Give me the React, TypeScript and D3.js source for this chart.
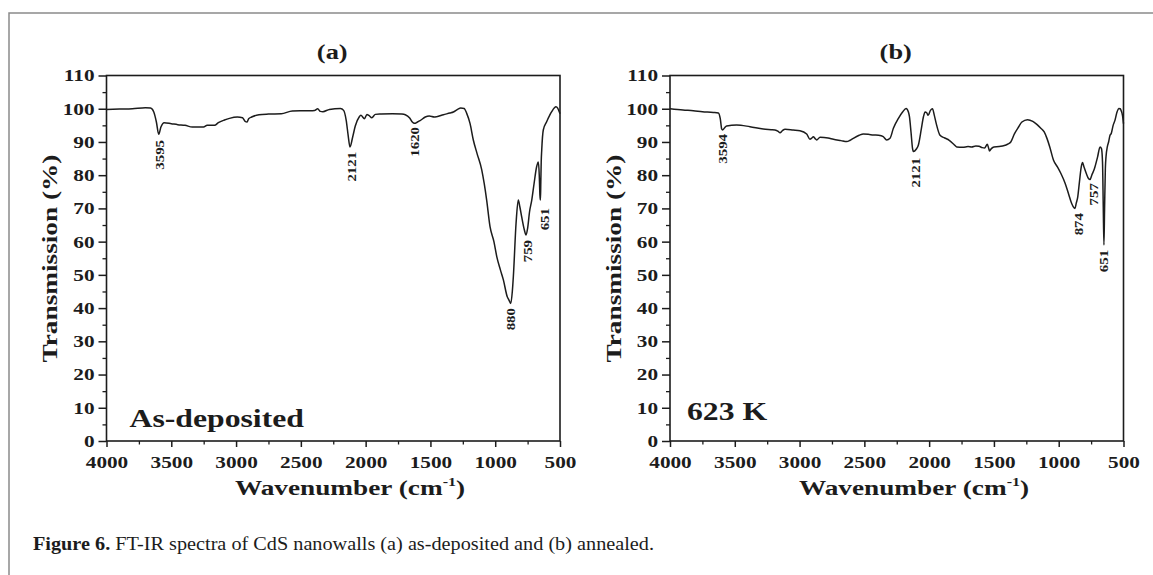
import React, { useEffect, useRef } from "react";
import * as d3 from "d3";

// ---------- data ----------
const wavenumberA = [4000, 3900, 3800, 3700, 3660, 3635, 3615, 3597, 3580, 3555, 3500, 3450, 3394, 3337, 3251, 3223, 3166, 3137, 3090, 3051, 2990, 2950, 2930, 2915, 2903, 2880, 2823, 2750, 2651, 2566, 2450, 2394, 2370, 2350, 2330, 2280, 2194, 2170, 2150, 2135, 2121, 2100, 2080, 2050, 2037, 2009, 1990, 1975, 1952, 1925, 1880, 1794, 1720, 1694, 1660, 1640, 1623, 1600, 1580, 1540, 1509, 1470, 1452, 1400, 1350, 1323, 1290, 1266, 1240, 1220, 1194, 1169, 1140, 1104, 1085, 1066, 1040, 1010, 988, 960, 937, 907, 895, 880, 868, 860, 839, 822, 810, 796, 775, 762, 750, 735, 718, 700, 680, 667, 660, 655, 651, 648, 645, 641, 629, 603, 580, 564, 545, 531, 518, 510, 500];
const transmissionA = [99.8, 99.9, 100.0, 100.3, 100.2, 99.0, 96.0, 92.3, 94.5, 95.8, 95.5, 95.2, 95.0, 94.5, 94.5, 95.0, 95.0, 95.8, 96.6, 97.1, 97.5, 97.3, 96.2, 96.0, 97.0, 97.5, 98.2, 98.4, 98.5, 99.3, 99.4, 99.5, 100.0, 99.2, 99.1, 99.8, 100.1, 99.5, 96.5, 92.0, 88.5, 91.5, 94.8, 97.5, 98.0, 97.0, 98.3, 98.0, 97.3, 98.3, 98.4, 98.5, 98.4, 98.2, 97.2, 96.0, 95.6, 96.0, 96.4, 97.5, 97.8, 97.5, 97.6, 98.2, 98.7, 99.0, 99.8, 100.2, 100.1, 98.6, 95.5, 90.6, 86.5, 81.6, 77.5, 72.5, 64.5, 60.0, 55.5, 51.5, 48.5, 43.4, 42.5, 41.4, 45.0, 49.5, 65.6, 72.5, 70.5, 67.5, 63.5, 62.0, 64.0, 69.0, 72.5, 77.5, 82.6, 84.0, 80.0, 74.0, 72.5, 78.0, 84.0, 87.6, 93.6, 96.1, 98.0, 99.1, 100.2, 100.6, 100.2, 99.5, 98.5];

const wavenumberB = [4000, 3900, 3820, 3750, 3666, 3627, 3612, 3601, 3594, 3580, 3563, 3486, 3383, 3280, 3220, 3190, 3165, 3151, 3130, 3112, 3050, 2997, 2945, 2920, 2905, 2894, 2880, 2868, 2842, 2780, 2739, 2680, 2636, 2610, 2585, 2540, 2508, 2470, 2431, 2390, 2354, 2328, 2302, 2276, 2237, 2205, 2178, 2160, 2152, 2140, 2128, 2121, 2100, 2083, 2060, 2044, 2031, 2019, 2008, 1990, 1974, 1960, 1945, 1916, 1880, 1845, 1810, 1787, 1740, 1700, 1672, 1640, 1615, 1590, 1572, 1551, 1540, 1534, 1520, 1500, 1460, 1413, 1390, 1370, 1341, 1310, 1284, 1241, 1200, 1169, 1140, 1112, 1090, 1069, 1040, 1010, 983, 950, 925, 900, 882, 874, 865, 853, 840, 826, 816, 805, 787, 770, 758, 745, 724, 700, 681, 670, 662, 656, 651, 646, 640, 635, 625, 615, 604, 595, 580, 566, 550, 537, 525, 517, 508, 500];
const transmissionB = [100.0, 99.6, 99.4, 99.1, 98.9, 98.7, 97.0, 93.9, 93.6, 94.2, 94.8, 95.1, 94.6, 93.9, 93.7, 93.6, 93.2, 92.8, 93.5, 93.8, 93.6, 93.4, 92.4, 90.8, 91.2, 91.6, 91.0, 90.6, 91.4, 91.2, 90.8, 90.4, 90.1, 90.5, 91.1, 92.0, 92.4, 92.3, 92.1, 92.0, 91.6, 90.6, 91.1, 94.1, 97.1, 99.0, 100.1, 99.0, 97.6, 93.0, 88.0, 87.1, 87.8, 89.1, 94.0, 97.6, 99.0, 98.8, 98.0, 99.5, 100.0, 98.0, 95.5, 92.0, 91.2, 90.5, 89.3, 88.5, 88.4, 88.6, 88.5, 88.8, 88.7, 88.3, 88.2, 89.3, 88.0, 87.3, 88.0, 88.5, 88.6, 89.0, 89.4, 90.0, 92.5, 94.5, 96.0, 96.7, 96.2, 95.3, 94.2, 93.0, 91.0, 88.5, 84.5, 82.5, 80.5, 77.5, 74.5, 71.5, 70.2, 70.0, 71.5, 73.5, 78.0, 82.5, 83.8, 82.5, 80.5, 79.0, 78.7, 80.0, 82.0, 85.5, 88.5, 88.0, 84.0, 70.0, 59.0, 70.0, 82.0, 85.5, 88.5, 90.0, 92.0, 92.5, 95.0, 96.5, 99.0, 100.1, 100.0, 99.3, 98.0, 95.5];

const peakLabelsA = ["3595", "2121", "1620", "880", "759", "651"];
const peakWavenumbersA = [3595, 2109, 1627, 882, 755, 619];
const peakLevelsA = [90.6, 87.0, 94.5, 40.0, 60.5, 70.1];

const peakLabelsB = ["3594", "2121", "874", "757", "651"];
const peakWavenumbersB = [3598, 2109, 852, 737, 658];
const peakLevelsB = [92.4, 85.2, 68.6, 77.6, 57.5];

const xMajorTicks = [4000, 3500, 3000, 2500, 2000, 1500, 1000, 500];
const xMinorTicks = [3750, 3250, 2750, 2250, 1750, 1250, 750];
const yMajorTicks = [0, 10, 20, 30, 40, 50, 60, 70, 80, 90, 100, 110];
const yMinorTicks = [5, 15, 25, 35, 45, 55, 65, 75, 85, 95, 105];

const panelTitles = ["(a)", "(b)"];
const sampleLabels = ["As-deposited", "623 K"];
const xAxisTitle = "Wavenumber (cm";
const yAxisTitle = "Transmission (%)";

// ---------- layout ----------
const FONT = "'Liberation Serif', 'Times New Roman', serif";
const INK = "#1c1c1c";
const PW = 453.5;
const TOP = 75.5;
const BOTTOM = 441;

function Stretch(props: any) {
  const { x, y, sx = 1, rot = 0, anchor = "start", size, weight = "bold", children } = props;
  return (
    <text
      transform={`translate(${x},${y}) rotate(${rot}) scale(${sx},1)`}
      textAnchor={anchor}
      fontSize={size}
      fontWeight={weight}
      fontFamily={FONT}
      fill={INK}
    >
      {children}
    </text>
  );
}

function Panel(props: any) {
  const { left, wav, tr, labels, labelW, labelT, title, sample, sampleDx, sampleY, xTitleCx } = props;
  const xRef = useRef<SVGGElement>(null);
  const xMinRef = useRef<SVGGElement>(null);
  const yRef = useRef<SVGGElement>(null);
  const yMinRef = useRef<SVGGElement>(null);

  const x = d3.scaleLinear().domain([4000, 500]).range([left, left + PW]);
  const y = d3.scaleLinear().domain([0, 110]).range([BOTTOM, TOP]);

  useEffect(() => {
    const gx = d3.select(xRef.current as SVGGElement);
    gx.call(d3.axisBottom(x).tickValues(xMajorTicks).tickSize(6).tickPadding(9).tickFormat(d3.format("d")) as any);
    gx.select(".domain").remove();
    gx.selectAll(".tick line").attr("stroke", INK).attr("stroke-width", 1.5);
    gx.selectAll(".tick text")
      .attr("font-size", 17)
      .attr("font-weight", "bold")
      .attr("font-family", FONT)
      .attr("fill", INK)
      .attr("transform", "scale(1.25,1)");

    const gxm = d3.select(xMinRef.current as SVGGElement);
    gxm.call(d3.axisBottom(x).tickValues(xMinorTicks).tickSize(3.5).tickFormat(() => "") as any);
    gxm.select(".domain").remove();
    gxm.selectAll(".tick line").attr("stroke", INK).attr("stroke-width", 1.3);

    const gy = d3.select(yRef.current as SVGGElement);
    gy.call(d3.axisLeft(y).tickValues(yMajorTicks).tickSize(8).tickPadding(4).tickFormat(d3.format("d")) as any);
    gy.select(".domain").remove();
    gy.selectAll(".tick line").attr("stroke", INK).attr("stroke-width", 1.5);
    gy.selectAll(".tick text")
      .attr("font-size", 17)
      .attr("font-weight", "bold")
      .attr("font-family", FONT)
      .attr("fill", INK)
      .attr("x", -12 / 1.25)
      .attr("transform", "scale(1.25,1)");

    const gym = d3.select(yMinRef.current as SVGGElement);
    gym.call(d3.axisLeft(y).tickValues(yMinorTicks).tickSize(4).tickFormat(() => "") as any);
    gym.select(".domain").remove();
    gym.selectAll(".tick line").attr("stroke", INK).attr("stroke-width", 1.3);
  }, []);

  const line = d3
    .line<number>()
    .x((_, i) => x(wav[i]))
    .y((d) => y(d))
    .curve(d3.curveMonotoneX);

  return (
    <g>
      <g ref={xRef} transform={`translate(0,${BOTTOM})`} />
      <g ref={xMinRef} transform={`translate(0,${BOTTOM})`} />
      <g ref={yRef} transform={`translate(${left},0)`} />
      <g ref={yMinRef} transform={`translate(${left},0)`} />
      <rect x={left} y={TOP} width={PW} height={BOTTOM - TOP} fill="none" stroke={INK} strokeWidth={1.6} />
      <path d={line(tr) || ""} fill="none" stroke={INK} strokeWidth={1.5} strokeLinejoin="round" />
      {labels.map((lab: string, i: number) => (
        <text
          key={lab + i}
          transform={`translate(${x(labelW[i])},${y(labelT[i])}) rotate(-90) scale(1.1,1)`}
          textAnchor="end"
          dy="0.35em"
          fontSize={13.5}
          fontWeight="bold"
          fontFamily={FONT}
          fill={INK}
        >
          {lab}
        </text>
      ))}
      <Stretch x={left + PW / 2 - 1} y={59} sx={1.2} anchor="middle" size={22}>{title}</Stretch>
      <Stretch x={left + sampleDx} y={sampleY} sx={1.22} size={26}>{sample}</Stretch>
      <Stretch x={left - 49.5} y={258.5} rot={-90} sx={1.24} anchor="middle" size={22}>{yAxisTitle}</Stretch>
      <text
        transform={`translate(${xTitleCx},495) scale(1.24,1)`}
        textAnchor="middle"
        fontSize={22}
        fontWeight="bold"
        fontFamily={FONT}
        fill={INK}
      >
        {xAxisTitle}
        <tspan fontSize={13} dy={-9}>-1</tspan>
        <tspan dy={9}>)</tspan>
      </text>
    </g>
  );
}

export default function App() {
  return (
    <svg
      width={1153}
      height={575}
      style={{ position: "absolute", left: 0, top: 0, background: "#fff" }}
    >
      <rect x={0} y={0} width={1153} height={575} fill="#fff" />
      <path d="M9,575 L9,13 L1153,13" fill="none" stroke="#8a8a8a" strokeWidth={1.5} />
      <Panel
        left={106.5}
        wav={wavenumberA}
        tr={transmissionA}
        labels={peakLabelsA}
        labelW={peakWavenumbersA}
        labelT={peakLevelsA}
        title={panelTitles[0]}
        sample={sampleLabels[0]}
        sampleDx={23}
        sampleY={427}
        xTitleCx={350}
      />
      <Panel
        left={670}
        wav={wavenumberB}
        tr={transmissionB}
        labels={peakLabelsB}
        labelW={peakWavenumbersB}
        labelT={peakLevelsB}
        title={panelTitles[1]}
        sample={sampleLabels[1]}
        sampleDx={17}
        sampleY={420}
        xTitleCx={914}
      />
      <text x={33} y={550} fontSize={18} fontFamily={FONT} fill={INK} textLength={621} lengthAdjust="spacingAndGlyphs">
        <tspan fontWeight="bold">Figure 6.</tspan> FT-IR spectra of CdS nanowalls (a) as-deposited and (b) annealed.
      </text>
    </svg>
  );
}
